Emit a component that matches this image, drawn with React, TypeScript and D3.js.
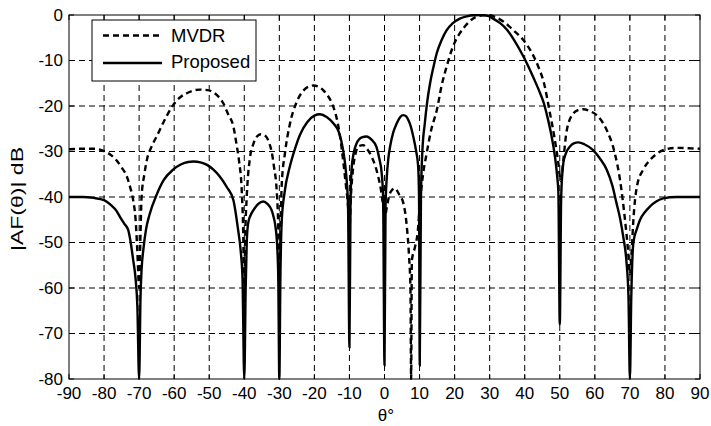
import React from 'react';
import * as d3 from 'd3';

// angles (deg) and pattern levels (dB)
const mvdrTheta = [
  -90, -86, -83, -80, -78, -76.4, -75, -73.5, -72.5, -71.7, -71, -70.5, -70, -69.6, -69.3, -68.5, -67.8, -66.5, -65, -63,
  -60.3, -58, -56.4, -54.5, -52.6, -50.5, -48.8, -47.3, -46, -44.5, -43.1, -42.2, -41.5, -40.7, -40.3, -40, -39.7, -39.3,
  -38.4, -37.4, -36.4, -35.3, -34.3, -33.6, -32.8, -32.2, -31.5, -30.8, -30.4, -30, -29.6, -29.3, -28.4, -27, -25.1, -23,
  -21.5, -20.3, -19, -17.5, -16.5, -15, -13.7, -12.7, -11.8, -11, -10.4, -10, -9.6, -8.9, -8.2, -7.5, -6.1, -5, -3.7,
  -2.7, -1.8, -1, -0.4, 0, 0.5, 1.1, 1.8, 3, 4.2, 5.4, 6.3, 7, 7.4, 7.6, 7.8, 8.7, 9.5, 10.1, 11, 12, 13.4, 14.9, 16.3,
  17.7, 19.5, 21.5, 23.5, 25.2, 27, 29.5, 31.5, 34, 37, 39.6, 41.8, 43.9, 45.5, 47.2, 48.5, 49.5, 50.3, 51, 52, 53.9,
  55.3, 56.7, 58.5, 60.5, 63.4, 65.7, 67.2, 68.6, 69.5, 70, 70.5, 71, 72, 73.8, 75.7, 77.5, 79.5, 83.3, 87, 90,
];
const mvdrDb = [
  -29.5, -29.4, -29.4, -29.9, -30.8, -32, -33.5, -35.5, -38, -40.7, -45, -52, -60, -48, -40, -35, -31.9, -29, -26.7, -23.5,
  -19.8, -17.9, -17.2, -16.6, -16.4, -16.5, -17, -18, -19.4, -22, -24.5, -28.5, -32, -39, -48, -63, -48, -40,
  -31.5, -28.3, -26.7, -26.2, -26.4, -26.9, -28.3, -30, -33.5, -38, -44, -55, -44, -37, -30.4, -24, -19.2, -16.5,
  -15.7, -15.5, -15.7, -16.5, -17.4, -19.4, -22.5, -26.5, -32, -37.5, -42, -47, -40, -33.3, -30.3, -28.9, -28.6, -29.4, -31.1,
  -33, -35.5, -38.5, -42, -45, -43, -40.5, -38.8, -38.1, -39.5, -41.4, -46, -53, -60, -80, -54, -51, -47.5, -41.4, -35, -30.5, -25, -21, -15.5,
  -11.4, -7, -4, -2, -0.8, -0.2, 0, -0.4, -1.5, -3.5, -5.5, -8, -11.4, -15, -21.6, -27, -32, -36.5, -32, -25.3, -21.6,
  -20.9, -20.7, -21.1, -22, -25.3, -30.4, -36.3, -45, -52, -57, -52, -45, -37.7, -34, -31.9, -30.6, -29.7, -29.2, -29.3, -29.4,
];

const proposedTheta = [
  -90, -86, -83, -80, -78, -76.5, -75.5, -74.3, -73.1, -72.4, -71.7, -71, -70.5, -70, -69.6, -69.3, -68.8, -68, -67, -65,
  -63, -60.3, -58, -56, -54.5, -52.5, -50.5, -48.8, -47, -45, -43.1, -41.8, -41, -40.5, -40, -39.6, -39.3, -38.9, -38.2,
  -37.4, -36, -34.6, -33.4, -32.2, -31.6, -31.2, -30.6, -30.3, -30, -29.7, -29.3, -28.5, -27, -25.5, -24.1, -22, -20,
  -18.4, -16.5, -14.6, -13, -11.8, -11.2, -10.8, -10.4, -10, -9.7, -9.4, -8.8, -8, -6.5, -5.1, -3.7, -2.3, -1.5, -0.8,
  -0.4, 0, 0.3, 0.6, 1.1, 1.6, 2.5, 3.5, 4.5, 5.4, 6.2, 6.8, 7.5, 8.2, 9, 9.6, 9.85, 10.05, 10.4, 10.8, 11.5, 12.2, 13,
  14, 14.9, 16.3, 17.7, 19.5, 21.5, 23.5, 25.3, 27.5, 29.5, 31, 33, 35, 36.8, 38.7, 40.6, 42.5, 44.4, 45.5, 46.5, 47.5, 48.6,
  49.2, 49.6, 50, 50.4, 51, 51.8, 52.9, 54, 55.3, 57, 59.5, 61.5, 63.4, 65, 66.2, 67.2, 68.1, 69, 69.6, 70, 70.4, 71, 72,
  72.9, 74.3, 75.7, 77.5, 79.5, 83.3, 87, 90,
];
const proposedDb = [
  -40, -40, -40.2, -40.7, -41.8, -43, -44.3, -45.8, -47.3, -50, -53.8, -58, -64, -80, -62, -56, -51.6, -47, -43.8, -39.5,
  -36.3, -34, -32.8, -32.3, -32.2, -32.4, -33, -34, -35.5, -37.8, -40.7, -47, -52, -58, -80, -60, -50, -45.8, -44,
  -42.9, -41.5, -41, -41.5, -42.9, -44.5, -46, -51, -58, -80, -58, -45, -39, -33.3, -29.3, -26.3, -23.5, -22.1,
  -21.8, -22.4, -23.8, -25.8, -29.7, -33, -36.3, -42, -73, -42, -34, -30.4, -28.3, -26.9, -26.7, -27.4, -29, -31.5, -34.8,
  -40, -77, -42, -36.3, -31.5, -28.9, -25.8, -23.8, -22.4, -22, -22.3, -23.1, -24.5, -26.7, -29.8, -33.3, -40, -77, -40, -30, -23.8, -19, -15,
  -11.3, -8.4, -5.5, -3.4, -1.8, -0.8, -0.3, -0.05, 0, -0.2, -0.8, -1.8, -3.3, -5.3, -7.8, -10.6, -13.8, -17.2, -19.5, -22.5, -26, -31,
  -35, -39, -68, -40, -32.6, -30.3, -28.9, -28.2, -28, -28.4, -29.7, -31.6, -34, -37.5, -41.4, -44.7, -48.7, -54, -62, -80, -62, -50, -47,
  -45, -43.3, -42.1, -41, -40.3, -40, -40, -40,
];

const xTicks = [-90, -80, -70, -60, -50, -40, -30, -20, -10, 0, 10, 20, 30, 40, 50, 60, 70, 80, 90];
const yTicks = [0, -10, -20, -30, -40, -50, -60, -70, -80];
const legendLabels = ['MVDR', 'Proposed'];

const W = 711;
const H = 426;
const margin = { top: 15, right: 11, bottom: 47, left: 69 };
const pw = W - margin.left - margin.right;
const ph = H - margin.top - margin.bottom;
const font = 'Liberation Sans, Arial, Helvetica, sans-serif';

export default function App() {
  const x = d3.scaleLinear().domain([-90, 90]).range([0, pw]);
  const y = d3.scaleLinear().domain([-80, 0]).range([ph, 0]);

  // pair up angle/dB arrays and build the path
  const makePath = (thetas: number[], vals: number[]) =>
    d3
      .line<[number, number]>()
      .curve(d3.curveMonotoneX)
      .x((d) => x(d[0]))
      .y((d) => y(d[1]))(thetas.map((t, i) => [t, vals[i]]));

  return (
    <div style={{ position: 'absolute', left: 0, top: 0 }}>
      <svg width={W} height={H} style={{ display: 'block', background: '#fff' }}>
        <defs>
          <clipPath id="plotclip">
            <rect x={-1} y={-1} width={pw + 2} height={ph + 2} />
          </clipPath>
        </defs>
        <g transform={`translate(${margin.left},${margin.top})`}>
          {/* grid */}
          {xTicks.slice(1, -1).map((t) => (
            <line key={'gx' + t} x1={x(t)} x2={x(t)} y1={0} y2={ph} stroke="#000" strokeWidth={1} strokeDasharray="6,4" />
          ))}
          {yTicks.slice(1, -1).map((t) => (
            <line key={'gy' + t} x1={0} x2={pw} y1={y(t)} y2={y(t)} stroke="#000" strokeWidth={1} strokeDasharray="6,4" />
          ))}
          {/* inner ticks */}
          {xTicks.map((t) => (
            <g key={'tx' + t}>
              <line x1={x(t)} x2={x(t)} y1={ph} y2={ph - 5} stroke="#000" />
              <line x1={x(t)} x2={x(t)} y1={0} y2={5} stroke="#000" />
            </g>
          ))}
          {yTicks.map((t) => (
            <g key={'ty' + t}>
              <line x1={0} x2={5} y1={y(t)} y2={y(t)} stroke="#000" />
              <line x1={pw} x2={pw - 5} y1={y(t)} y2={y(t)} stroke="#000" />
            </g>
          ))}

          {/* curves */}
          <g clipPath="url(#plotclip)">
            <path d={makePath(mvdrTheta, mvdrDb) || ''} fill="none" stroke="#000" strokeWidth={2.4} strokeDasharray="6,4" />
            <path d={makePath(proposedTheta, proposedDb) || ''} fill="none" stroke="#000" strokeWidth={2.4} />
          </g>

          <rect x={0} y={0} width={pw} height={ph} fill="none" stroke="#000" strokeWidth={1} />

          {/* tick labels */}
          {xTicks.map((t) => (
            <text key={'lx' + t} x={x(t)} y={ph + 20} textAnchor="middle" fontFamily={font} fontSize={17}>
              {t}
            </text>
          ))}
          {yTicks.map((t) => (
            <text key={'ly' + t} x={-6} y={y(t)} dy="0.35em" textAnchor="end" fontFamily={font} fontSize={17}>
              {t}
            </text>
          ))}

          {/* legend */}
          <rect x={23} y={5} width={164} height={61} fill="#fff" stroke="#000" strokeWidth={1} />
          <line x1={34} x2={93} y1={20.5} y2={20.5} stroke="#000" strokeWidth={2.5} strokeDasharray="6,4" />
          <line x1={34} x2={93} y1={48} y2={48} stroke="#000" strokeWidth={2.5} />
          <text x={102} y={20.5} dy="0.35em" fontFamily={font} fontSize={18.5}>
            {legendLabels[0]}
          </text>
          <text x={102} y={47} dy="0.35em" fontFamily={font} fontSize={18.5}>
            {legendLabels[1]}
          </text>
        </g>

        {/* axis titles */}
        <text x={386} y={421} textAnchor="middle" fontFamily={font} fontSize={17}>
          θ°
        </text>
        <text
          transform="translate(23,199) rotate(-90)"
          textAnchor="middle"
          fontFamily={font}
          fontSize={16}
          textLength={104}
          lengthAdjust="spacingAndGlyphs"
        >
          |AF(θ)| dB
        </text>
      </svg>
    </div>
  );
}
